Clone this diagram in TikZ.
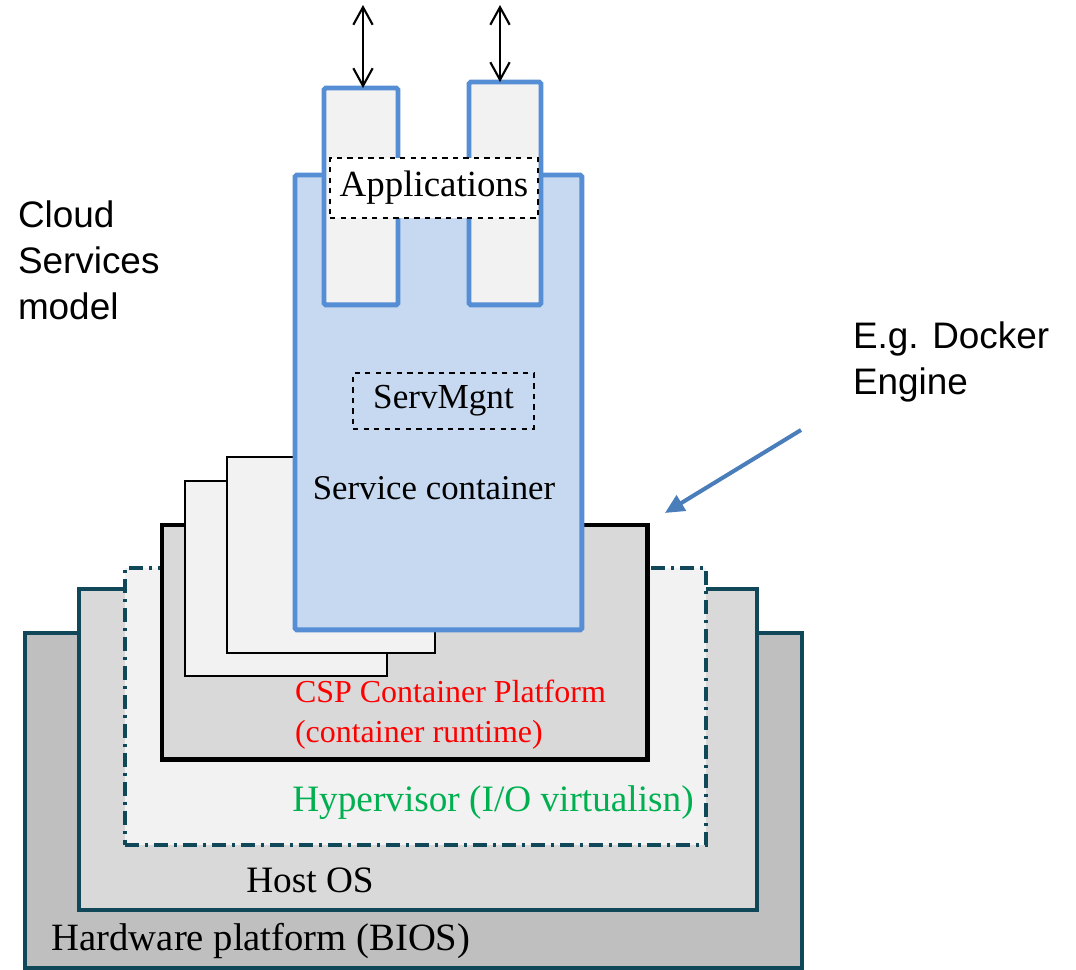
\documentclass[tikz,border=0pt]{standalone}
\usepackage{fontspec}
\setmainfont{Liberation Serif}
\setsansfont{Liberation Sans}
\usepackage{xcolor}
\usepackage{tikz}
\usetikzlibrary{arrows.meta, positioning, calc}

\definecolor{layeredge}{RGB}{16,72,90}
\definecolor{svcedge}{RGB}{85,142,213}
\definecolor{svcfill}{RGB}{198,217,240}
\definecolor{lightfill}{RGB}{242,242,242}
\definecolor{midfill}{RGB}{217,217,217}
\definecolor{darkfill}{RGB}{191,191,191}
\definecolor{engarrow}{RGB}{74,126,187}
\definecolor{hypgreen}{RGB}{0,176,80}

\begin{document}
\begin{tikzpicture}[x=0.02cm, y=-0.02cm,
    every node/.style={font=\fontsize{21}{24.5}\selectfont, inner sep=0pt, outer sep=0pt},
    layer/.style={draw=layeredge, line width=2.3pt, anchor=north west},
    card/.style={draw=black, line width=1.1pt, fill=lightfill, anchor=north west},
    svcbox/.style={draw=svcedge, line width=2.8pt, anchor=north west, rounded corners=1pt},
    tag/.style={draw=black, dashed, line width=0.9pt, minimum height=1.2cm},
    note/.style={font=\sffamily\fontsize{21}{26.2}\selectfont, align=left, anchor=west},
    io/.style={{Straight Barb[length=10pt,width=11pt]}-{Straight Barb[length=10pt,width=11pt]}, line width=1.2pt}]
    \useasboundingbox (0,0) rectangle (1076,970);
    % layers, bottom up
    \node[layer, fill=darkfill, minimum width=15.54cm, minimum height=6.7cm] (hw) at (25,633) {};
    \node[layer, fill=midfill, minimum width=13.56cm, minimum height=6.42cm] (host) at (79,589) {};
    \node[layer, fill=lightfill, dash pattern=on 8pt off 3.4pt on 1.7pt off 3.4pt, minimum width=11.62cm, minimum height=5.54cm] (hyp) at (125,568) {};
    \node[draw=black, line width=2.8pt, fill=midfill, anchor=north west, minimum width=9.72cm, minimum height=4.7cm] (csp) at (162,525) {};
    \node[card, minimum width=4.04cm, minimum height=3.9cm] (cardA) at (185,481) {};
    \node[card, minimum width=4.16cm, minimum height=3.92cm] (cardB) at (227,457) {};
    % service container and applications
    \node[svcbox, fill=svcfill, minimum width=5.74cm, minimum height=9.1cm] (svc) at (295,175) {};
    \node[svcbox, fill=lightfill, minimum width=1.48cm, minimum height=4.34cm] (appL) at (324,88) {};
    \node[svcbox, fill=lightfill, minimum width=1.44cm, minimum height=4.46cm] (appR) at (469,82) {};
    \node[tag, fill=white, minimum width=4.16cm] (apps) at (434,188) {Applications};
    \node[tag, fill=svcfill, minimum width=3.62cm, minimum height=1.12cm, font=\fontsize{20}{24}\selectfont] (mgnt) at (443.5,401) {ServMgnt};
    \node[font=\fontsize{19.8}{24}\selectfont] (svclabel) at (434,488) {Service container};
    % layer labels
    \node[text=red, align=left, anchor=west, font=\fontsize{18.2}{22.7}\selectfont] (csplabel) at (295,715) {CSP Container Platform\\(container runtime)};
    \node[text=hypgreen, font=\fontsize{21.2}{25}\selectfont] (hyplabel) at (493,803) {Hypervisor (I/O virtualisn)};
    \node[font=\fontsize{21.2}{25}\selectfont] (hostlabel) at (310,880) {Host OS};
    \node[font=\fontsize{22}{26}\selectfont] (hwlabel) at (261,941) {Hardware platform (BIOS)};
    % side notes
    \node[note] (cloud) at (18,260) {Cloud\\Services\\model};
    \node[note] (docker) at (853,362) {E.g. Docker\\Engine};
    % connectors
    \coordinate (extL) at (363,5);
    \coordinate (extR) at (500,5);
    \draw[io] (extL) -- (extL |- appL.north);
    \draw[io] (extR) -- (extR |- appR.north);
    \coordinate (engtail) at (801,430);
    \draw[-{Triangle[length=11pt,width=10pt]}, engarrow, line width=2.3pt] (engtail) -- ($(csp.north east)+(17,-12)$);
\end{tikzpicture}
\end{document}
